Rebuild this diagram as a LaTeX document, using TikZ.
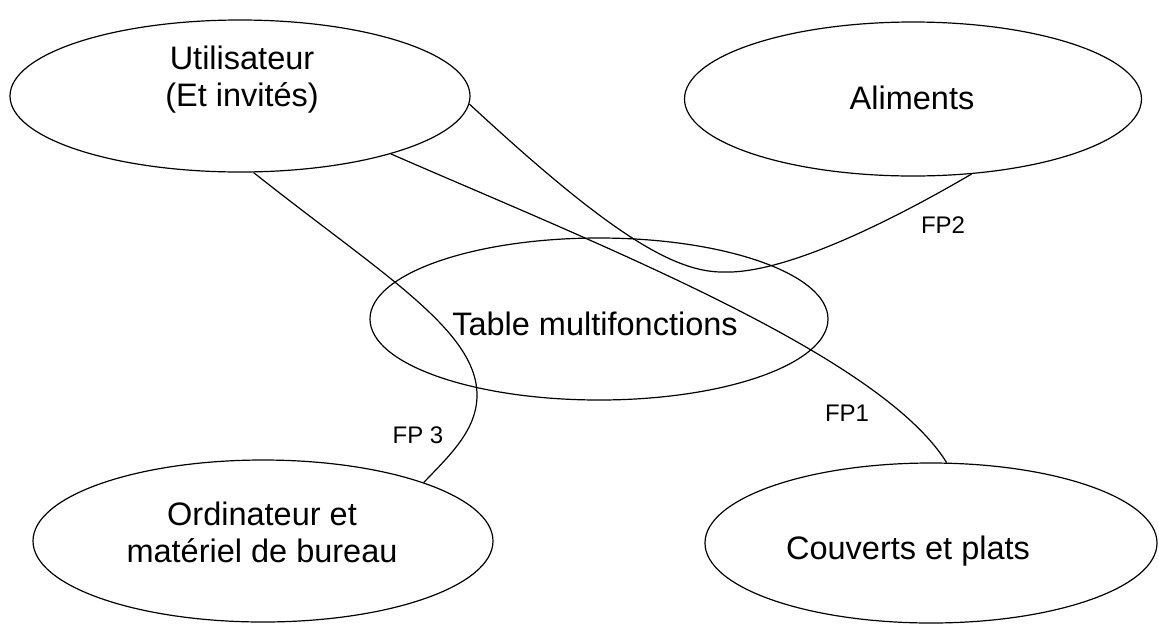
\documentclass[tikz,border=0pt]{standalone}
\usepackage{fontspec}
\setmainfont{Liberation Sans}
\usepackage{tikz}
\usetikzlibrary{
    shapes.geometric,
    positioning,
    calc
}
\tikzset{
  bulle/.style = {
      draw,
      ellipse,
      line width=1.2pt,
      inner sep=0pt
  },
  intitule/.style = {
      font=\fontsize{32.5}{37}\selectfont,
      align=center
  },
  fp/.style = {
      font=\fontsize{24}{28}\selectfont
  },
  lien/.style = {
      line width=1.2pt
  }
}

\begin{document}
\begin{tikzpicture}[x=1pt, y=-1pt]
    \useasboundingbox (0,0) rectangle (1159,625);
    % Nodes
    \node[bulle, minimum width=460pt, minimum height=152pt] (util) at (240,96) {};
    \node[bulle, minimum width=457pt, minimum height=154pt] (alim) at (913,99) {};
    \node[bulle, minimum width=458pt, minimum height=162pt] (table) at (599,319) {};
    \node[bulle, minimum width=460pt, minimum height=162pt] (ordi) at (263,541) {};
    \node[bulle, minimum width=452pt, minimum height=160pt] (couv) at (931,543) {};
    % Texts
    \node[intitule] (t-util) at (242,80) {Utilisateur\\(Et invités)};
    \node[intitule] (t-alim) at (912,98) {Aliments};
    \node[intitule] (t-table) at (595,324) {Table multifonctions};
    \node[intitule] (t-ordi) at (262,532) {Ordinateur et\\matériel de bureau};
    \node[intitule] (t-couv) at (908,551) {Couverts et plats};
    % Edges
    \path[draw, lien]
    (util.-2) .. controls (600,225) and (670,272) .. (722,272)
        .. controls (790,275) and (910,210) .. (alim.-52)
    (util.-21) .. controls (600,245) and (880,355) .. (couv.79)
    (util.-80) .. controls (380,273) and (477,330) .. (477,395)
        .. controls (477,430) and (450,455) .. (ordi.20);
    % Labels
    \node[fp] (fp2) at (943,225) {FP2};
    \node[fp] (fp1) at (847,413) {FP1};
    \node[fp] (fp3) at (418,435) {FP 3};
\end{tikzpicture}
\end{document}
